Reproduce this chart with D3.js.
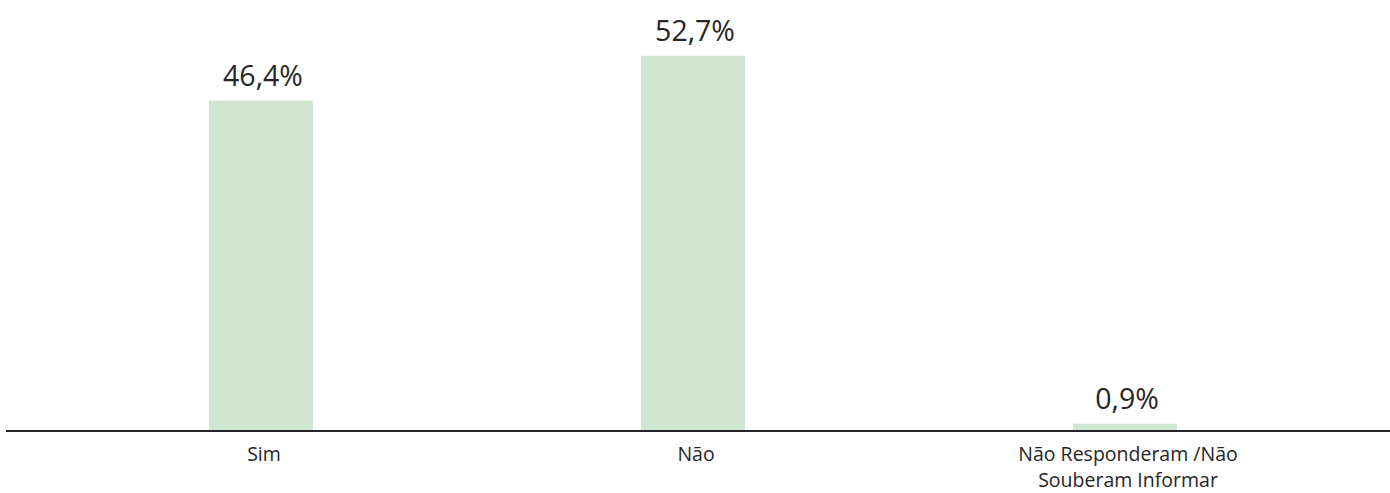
<!DOCTYPE html>
<html><head><meta charset="utf-8">
<script src="https://cdn.jsdelivr.net/npm/d3@7/dist/d3.min.js"></script>
<style>
html,body{margin:0;padding:0;background:#fff;}
svg{display:block;font-family:"Open Sans",sans-serif;}
</style></head>
<body>
<svg id="chart" width="1390" height="493"></svg>
<script>
const categories = ["Sim", "Não", "Não Responderam /Não|Souberam Informar"];
const values = [46.4, 52.7, 0.9];
const valueLabels = ["46,4%", "52,7%", "0,9%"];

const svg = d3.select("#chart");
const W = 1390, baseY = 430;

const x = d3.scaleBand()
  .domain(categories)
  .range([6, W])
  .paddingInner(0.7593)
  .paddingOuter(0.4815)
  .align(0.488);

const y = d3.scaleLinear().domain([0, 60]).range([baseY, 4]);

svg.selectAll("rect.bar").data(values).join("rect")
  .attr("class", "bar")
  .attr("x", (d, i) => x(categories[i]))
  .attr("width", x.bandwidth())
  .attr("y", d => y(d))
  .attr("height", d => y(0) - y(d))
  .attr("fill", "#cfe7d0");

svg.selectAll("text.val").data(values).join("text")
  .attr("class", "val")
  .attr("x", (d, i) => x(categories[i]) + x.bandwidth() / 2 + 2)
  .attr("y", d => y(d) - 15)
  .attr("text-anchor", "middle")
  .attr("font-size", 28.5)
  .attr("fill", "#262626")
  .text((d, i) => valueLabels[i]);

const xAxis = d3.axisBottom(x).tickSize(0).tickPadding(0).tickFormat("");
const gx = svg.append("g").attr("transform", `translate(0,${baseY + 1})`).call(xAxis)
  .attr("font-family", "'Open Sans', sans-serif");
gx.select(".domain").attr("stroke", "#262626").attr("stroke-width", 2).attr("d", `M6,0H${W}`);

gx.selectAll(".tick").each(function(d) {
  const lines = d.split("|");
  const t = d3.select(this).append("text")
    .attr("text-anchor", "middle")
    .attr("font-family", "'Open Sans', sans-serif")
    .attr("font-size", 19.5)
    .attr("fill", "#262626");
  lines.forEach((ln, k) => {
    t.append("tspan").attr("x", 3).attr("y", 30 + k * 26).text(ln);
  });
});
</script>
</body></html>
